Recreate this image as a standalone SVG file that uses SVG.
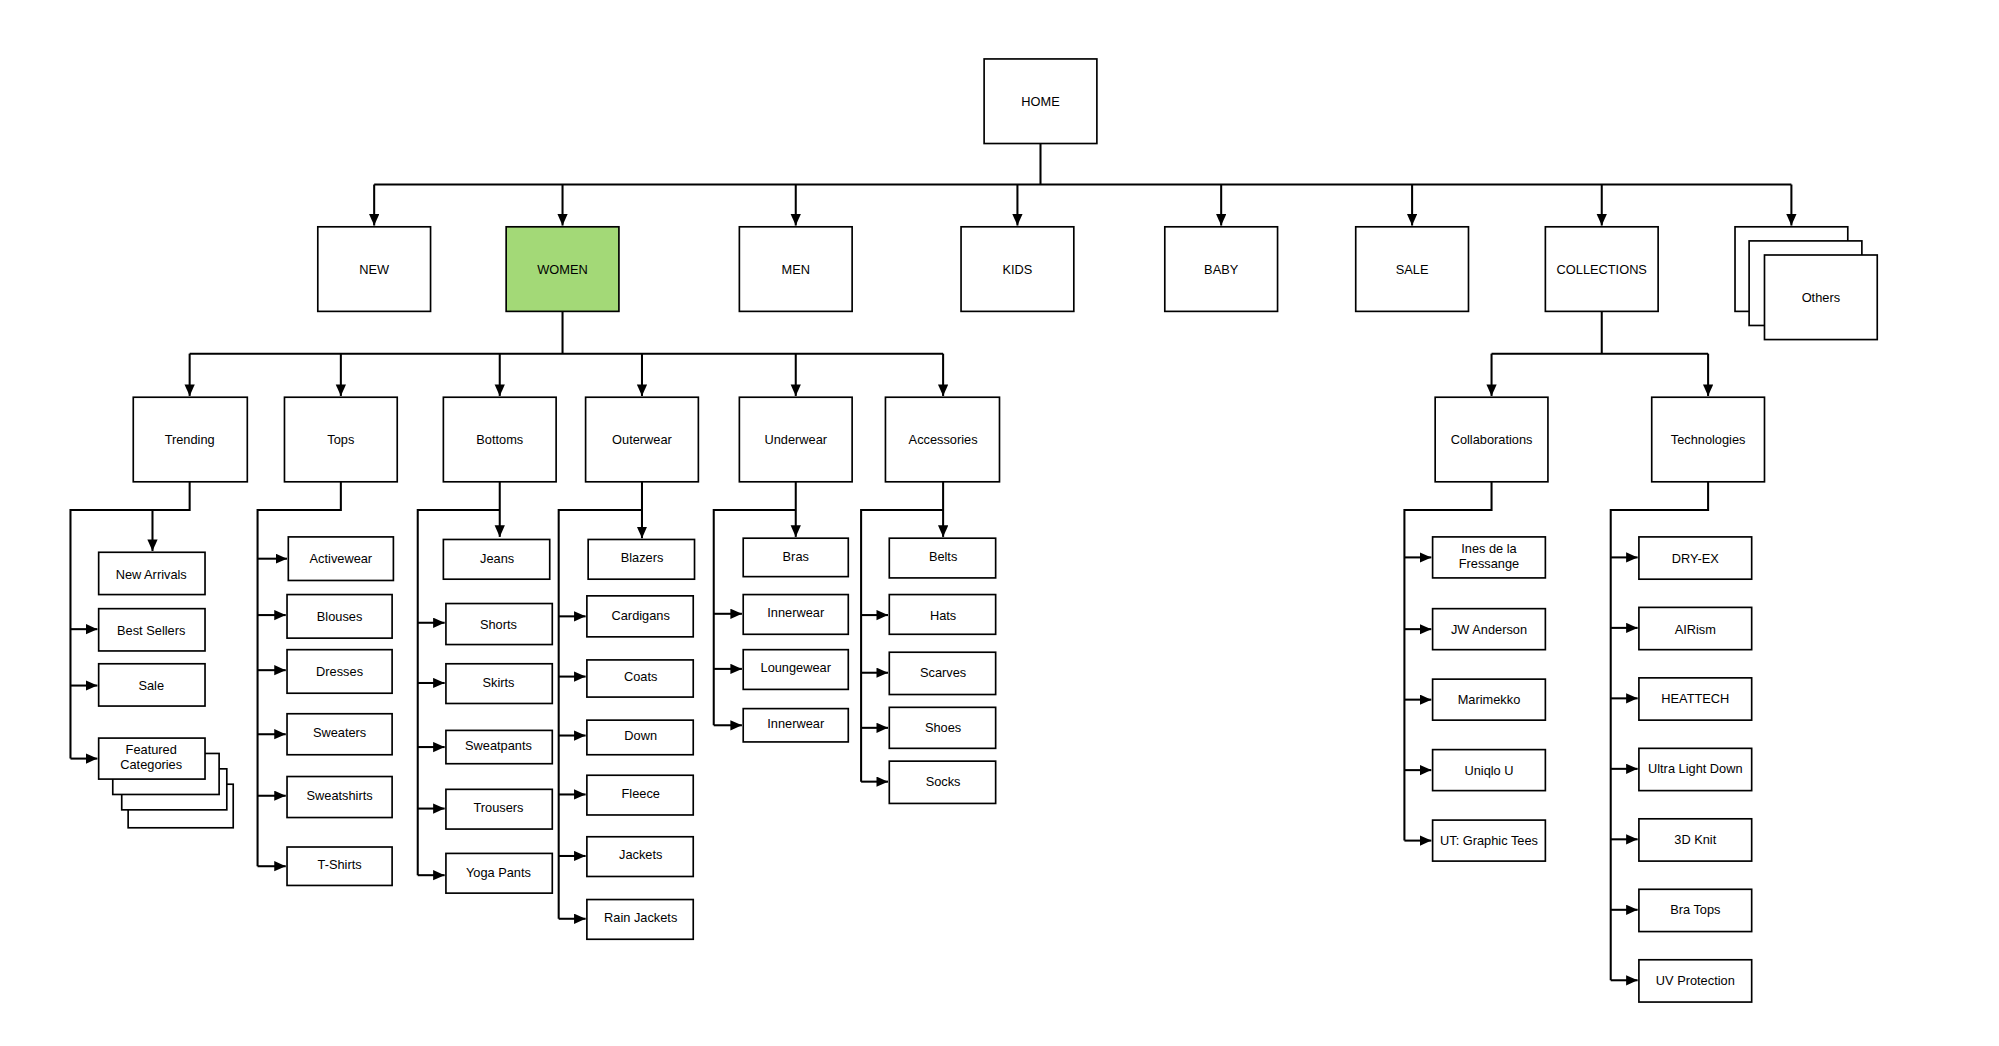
<svg xmlns="http://www.w3.org/2000/svg" width="1999" height="1046" viewBox="0 0 1999 1046">
<style>
.b{fill:#fff;stroke:#000;stroke-width:1.3}
.g{fill:#a3d977}
text{font-family:"Liberation Sans",Arial,sans-serif;font-size:10px;text-anchor:middle;dominant-baseline:central;fill:#000}
.c path{fill:none;stroke:#000;stroke-width:1.6}
</style>
<defs>
<marker id="a" markerUnits="userSpaceOnUse" markerWidth="10" markerHeight="10" refX="9" refY="4" orient="auto"><path d="M0,0 L9,4 L0,8 Z" fill="#000"/></marker>
</defs>
<rect width="1999" height="1046" fill="#fff"/>
<g transform="scale(1.2814)">
<g class="c">
<path d="M812,112V144M292,144H1398"/>
<path d="M292,144V176" marker-end="url(#a)"/><path d="M439,144V176" marker-end="url(#a)"/><path d="M621,144V176" marker-end="url(#a)"/><path d="M794,144V176" marker-end="url(#a)"/><path d="M953,144V176" marker-end="url(#a)"/><path d="M1102,144V176" marker-end="url(#a)"/><path d="M1250,144V176" marker-end="url(#a)"/><path d="M1398,144V176" marker-end="url(#a)"/>
<path d="M439,243V276M148,276H736"/>
<path d="M148,276V309" marker-end="url(#a)"/><path d="M266,276V309" marker-end="url(#a)"/><path d="M390,276V309" marker-end="url(#a)"/><path d="M501,276V309" marker-end="url(#a)"/><path d="M621,276V309" marker-end="url(#a)"/><path d="M736,276V309" marker-end="url(#a)"/>
<path d="M1250,243V276M1164,276H1333"/>
<path d="M1164,276V309" marker-end="url(#a)"/><path d="M1333,276V309" marker-end="url(#a)"/>
<path d="M148,376V398H55V592"/><path d="M119,398V430" marker-end="url(#a)"/>
<path d="M55,491H76" marker-end="url(#a)"/><path d="M55,535H76" marker-end="url(#a)"/><path d="M55,592H76" marker-end="url(#a)"/>
<path d="M266,376V398H201V676"/>
<path d="M201,436H224" marker-end="url(#a)"/><path d="M201,480H223" marker-end="url(#a)"/><path d="M201,523H223" marker-end="url(#a)"/><path d="M201,573H223" marker-end="url(#a)"/><path d="M201,621H223" marker-end="url(#a)"/><path d="M201,676H223" marker-end="url(#a)"/>
<path d="M390,398H326V683"/><path d="M390,376V419" marker-end="url(#a)"/>
<path d="M326,486H347" marker-end="url(#a)"/><path d="M326,533H347" marker-end="url(#a)"/><path d="M326,583H347" marker-end="url(#a)"/><path d="M326,631H347" marker-end="url(#a)"/><path d="M326,683H347" marker-end="url(#a)"/>
<path d="M501,398H436V717"/><path d="M501,376V420" marker-end="url(#a)"/>
<path d="M436,481H457" marker-end="url(#a)"/><path d="M436,528H457" marker-end="url(#a)"/><path d="M436,574H457" marker-end="url(#a)"/><path d="M436,620H457" marker-end="url(#a)"/><path d="M436,668H457" marker-end="url(#a)"/><path d="M436,717H457" marker-end="url(#a)"/>
<path d="M621,398H557V566"/><path d="M621,376V419" marker-end="url(#a)"/>
<path d="M557,479H579" marker-end="url(#a)"/><path d="M557,522H579" marker-end="url(#a)"/><path d="M557,566H579" marker-end="url(#a)"/>
<path d="M736,398H672V610"/><path d="M736,376V419" marker-end="url(#a)"/>
<path d="M672,480H693" marker-end="url(#a)"/><path d="M672,525H693" marker-end="url(#a)"/><path d="M672,568H693" marker-end="url(#a)"/><path d="M672,610H693" marker-end="url(#a)"/>
<path d="M1164,376V398H1096V656"/>
<path d="M1096,435H1117" marker-end="url(#a)"/><path d="M1096,491H1117" marker-end="url(#a)"/><path d="M1096,546H1117" marker-end="url(#a)"/><path d="M1096,601H1117" marker-end="url(#a)"/><path d="M1096,656H1117" marker-end="url(#a)"/>
<path d="M1333,376V398H1257V765"/>
<path d="M1257,435H1278" marker-end="url(#a)"/><path d="M1257,490H1278" marker-end="url(#a)"/><path d="M1257,545H1278" marker-end="url(#a)"/><path d="M1257,600H1278" marker-end="url(#a)"/><path d="M1257,655H1278" marker-end="url(#a)"/><path d="M1257,710H1278" marker-end="url(#a)"/><path d="M1257,765H1278" marker-end="url(#a)"/>
</g>
<g id="home"><rect class="b" x="768" y="46" width="88" height="66"/><text x="812" y="79">HOME</text></g>
<g id="new"><rect class="b" x="248" y="177" width="88" height="66"/><text x="292" y="210">NEW</text></g>
<g id="women"><rect class="b g" x="395" y="177" width="88" height="66"/><text x="439" y="210">WOMEN</text></g>
<g id="men"><rect class="b" x="577" y="177" width="88" height="66"/><text x="621" y="210">MEN</text></g>
<g id="kids"><rect class="b" x="750" y="177" width="88" height="66"/><text x="794" y="210">KIDS</text></g>
<g id="baby"><rect class="b" x="909" y="177" width="88" height="66"/><text x="953" y="210">BABY</text></g>
<g id="sale"><rect class="b" x="1058" y="177" width="88" height="66"/><text x="1102" y="210">SALE</text></g>
<g id="collections"><rect class="b" x="1206" y="177" width="88" height="66"/><text x="1250" y="210">COLLECTIONS</text></g>
<g id="others"><rect class="b" x="1354" y="177" width="88" height="66"/><rect class="b" x="1365" y="188" width="88" height="66"/><rect class="b" x="1377" y="199" width="88" height="66"/><text x="1421" y="232">Others</text></g>
<g id="trending"><rect class="b" x="104" y="310" width="89" height="66"/><text x="148" y="343">Trending</text></g>
<g id="tops"><rect class="b" x="222" y="310" width="88" height="66"/><text x="266" y="343">Tops</text></g>
<g id="bottoms"><rect class="b" x="346" y="310" width="88" height="66"/><text x="390" y="343">Bottoms</text></g>
<g id="outerwear"><rect class="b" x="457" y="310" width="88" height="66"/><text x="501" y="343">Outerwear</text></g>
<g id="underwear"><rect class="b" x="577" y="310" width="88" height="66"/><text x="621" y="343">Underwear</text></g>
<g id="accessories"><rect class="b" x="691" y="310" width="89" height="66"/><text x="736" y="343">Accessories</text></g>
<g id="collaborations"><rect class="b" x="1120" y="310" width="88" height="66"/><text x="1164" y="343">Collaborations</text></g>
<g id="technologies"><rect class="b" x="1289" y="310" width="88" height="66"/><text x="1333" y="343">Technologies</text></g>
<g id="newarrivals"><rect class="b" x="77" y="431" width="83" height="33"/><text x="118" y="448">New Arrivals</text></g>
<g id="bestsellers"><rect class="b" x="77" y="475" width="83" height="33"/><text x="118" y="492">Best Sellers</text></g>
<g id="tsale"><rect class="b" x="77" y="518" width="83" height="33"/><text x="118" y="535">Sale</text></g>
<g id="featured"><rect class="b" x="100" y="612" width="82" height="34"/><rect class="b" x="95" y="600" width="82" height="32"/><rect class="b" x="88" y="588" width="83" height="32"/><rect class="b" x="77" y="576" width="83" height="32"/><text x="118" y="585">Featured</text><text x="118" y="597">Categories</text></g>
<g id="activewear"><rect class="b" x="225" y="419" width="82" height="34"/><text x="266" y="436">Activewear</text></g>
<g id="blouses"><rect class="b" x="224" y="464" width="82" height="34"/><text x="265" y="481">Blouses</text></g>
<g id="dresses"><rect class="b" x="224" y="507" width="82" height="34"/><text x="265" y="524">Dresses</text></g>
<g id="sweaters"><rect class="b" x="224" y="557" width="82" height="32"/><text x="265" y="572">Sweaters</text></g>
<g id="sweatshirts"><rect class="b" x="224" y="606" width="82" height="32"/><text x="265" y="621">Sweatshirts</text></g>
<g id="tshirts"><rect class="b" x="224" y="661" width="82" height="30"/><text x="265" y="675">T-Shirts</text></g>
<g id="jeans"><rect class="b" x="346" y="421" width="83" height="31"/><text x="388" y="436">Jeans</text></g>
<g id="shorts"><rect class="b" x="348" y="471" width="83" height="32"/><text x="389" y="487">Shorts</text></g>
<g id="skirts"><rect class="b" x="348" y="518" width="83" height="31"/><text x="389" y="533">Skirts</text></g>
<g id="sweatpants"><rect class="b" x="348" y="570" width="83" height="26"/><text x="389" y="582">Sweatpants</text></g>
<g id="trousers"><rect class="b" x="348" y="616" width="83" height="31"/><text x="389" y="630">Trousers</text></g>
<g id="yogapants"><rect class="b" x="348" y="666" width="83" height="31"/><text x="389" y="681">Yoga Pants</text></g>
<g id="blazers"><rect class="b" x="459" y="421" width="83" height="31"/><text x="501" y="435">Blazers</text></g>
<g id="cardigans"><rect class="b" x="458" y="465" width="83" height="32"/><text x="500" y="480">Cardigans</text></g>
<g id="coats"><rect class="b" x="458" y="515" width="83" height="29"/><text x="500" y="528">Coats</text></g>
<g id="down"><rect class="b" x="458" y="562" width="83" height="27"/><text x="500" y="574">Down</text></g>
<g id="fleece"><rect class="b" x="458" y="605" width="83" height="31"/><text x="500" y="619">Fleece</text></g>
<g id="jackets"><rect class="b" x="458" y="653" width="83" height="31"/><text x="500" y="667">Jackets</text></g>
<g id="rainjackets"><rect class="b" x="458" y="702" width="83" height="31"/><text x="500" y="716">Rain Jackets</text></g>
<g id="bras"><rect class="b" x="580" y="420" width="82" height="30"/><text x="621" y="434">Bras</text></g>
<g id="innerwear1"><rect class="b" x="580" y="464" width="82" height="31"/><text x="621" y="478">Innerwear</text></g>
<g id="loungewear"><rect class="b" x="580" y="507" width="82" height="31"/><text x="621" y="521">Loungewear</text></g>
<g id="innerwear2"><rect class="b" x="580" y="553" width="82" height="26"/><text x="621" y="565">Innerwear</text></g>
<g id="belts"><rect class="b" x="694" y="420" width="83" height="31"/><text x="736" y="434">Belts</text></g>
<g id="hats"><rect class="b" x="694" y="464" width="83" height="31"/><text x="736" y="480">Hats</text></g>
<g id="scarves"><rect class="b" x="694" y="509" width="83" height="33"/><text x="736" y="525">Scarves</text></g>
<g id="shoes"><rect class="b" x="694" y="552" width="83" height="32"/><text x="736" y="568">Shoes</text></g>
<g id="socks"><rect class="b" x="694" y="594" width="83" height="33"/><text x="736" y="610">Socks</text></g>
<g id="ines"><rect class="b" x="1118" y="419" width="88" height="32"/><text x="1162" y="428">Ines de la</text><text x="1162" y="440">Fressange</text></g>
<g id="jw"><rect class="b" x="1118" y="475" width="88" height="32"/><text x="1162" y="491">JW Anderson</text></g>
<g id="marimekko"><rect class="b" x="1118" y="530" width="88" height="32"/><text x="1162" y="546">Marimekko</text></g>
<g id="uniqlou"><rect class="b" x="1118" y="585" width="88" height="32"/><text x="1162" y="601">Uniqlo U</text></g>
<g id="ut"><rect class="b" x="1118" y="640" width="88" height="32"/><text x="1162" y="656">UT: Graphic Tees</text></g>
<g id="dryex"><rect class="b" x="1279" y="419" width="88" height="33"/><text x="1323" y="436">DRY-EX</text></g>
<g id="airism"><rect class="b" x="1279" y="474" width="88" height="33"/><text x="1323" y="491">AIRism</text></g>
<g id="heattech"><rect class="b" x="1279" y="529" width="88" height="33"/><text x="1323" y="545">HEATTECH</text></g>
<g id="uld"><rect class="b" x="1279" y="584" width="88" height="33"/><text x="1323" y="600">Ultra Light Down</text></g>
<g id="knit"><rect class="b" x="1279" y="639" width="88" height="33"/><text x="1323" y="655">3D Knit</text></g>
<g id="bratops"><rect class="b" x="1279" y="694" width="88" height="33"/><text x="1323" y="710">Bra Tops</text></g>
<g id="uv"><rect class="b" x="1279" y="749" width="88" height="33"/><text x="1323" y="765">UV Protection</text></g>
</g>
</svg>
